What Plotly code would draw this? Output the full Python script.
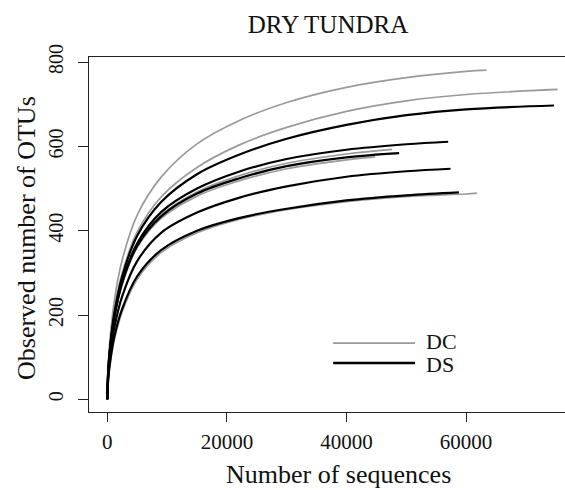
import plotly.graph_objects as go

# ---- data ----
# DC (grey) rarefaction curves
dc_x = [
    [0, 150, 500, 1200, 2500, 5000, 9000, 15000, 22000, 30000, 40000, 50000, 60000, 63400],
    [0, 150, 500, 1200, 2500, 5000, 9000, 15000, 22000, 30000, 40000, 50000, 60000, 75300],
    [0, 150, 500, 1200, 2500, 5000, 9000, 15000, 22000, 30000, 40000, 47600],
    [0, 150, 500, 1200, 2500, 5000, 9000, 15000, 22000, 30000, 40000, 44800],
    [0, 150, 500, 1200, 2500, 5000, 9000, 15000, 22000, 30000, 40000, 50000, 60000, 61800],
]
dc_y = [
    [0, 79, 150, 236, 331, 437, 527, 606, 661, 704, 740, 763, 778, 781],
    [0, 70, 134, 213, 300, 397, 480, 550, 603, 645, 683, 708, 723, 735],
    [0, 64, 123, 196, 276, 365, 437, 492, 530, 560, 582, 593],
    [0, 63, 122, 194, 273, 360, 429, 482, 518, 547, 568, 575],
    [0, 43, 86, 143, 208, 285, 348, 395, 427, 450, 469, 481, 487, 489],
]
# DS (black) rarefaction curves
ds_x = [
    [0, 150, 500, 1200, 2500, 5000, 9000, 15000, 22000, 30000, 40000, 50000, 60000, 74700],
    [0, 150, 500, 1200, 2500, 5000, 9000, 15000, 22000, 30000, 40000, 50000, 57000],
    [0, 150, 500, 1200, 2500, 5000, 9000, 15000, 22000, 30000, 40000, 48800],
    [0, 150, 500, 1200, 2500, 5000, 9000, 15000, 22000, 30000, 40000, 50000, 57400],
    [0, 150, 500, 1200, 2500, 5000, 9000, 15000, 22000, 30000, 40000, 50000, 58800],
]
ds_y = [
    [0, 68, 130, 207, 292, 388, 468, 534, 580, 618, 651, 674, 688, 697],
    [0, 65, 125, 198, 280, 370, 444, 500, 540, 570, 592, 605, 611],
    [0, 65, 125, 197, 277, 364, 434, 488, 524, 553, 574, 584],
    [0, 55, 108, 172, 245, 328, 395, 443, 478, 505, 528, 541, 547],
    [0, 47, 92, 150, 215, 292, 354, 400, 430, 452, 472, 484, 491],
]
legend_labels = ["DC", "DS"]
x_ticks = [0, 20000, 40000, 60000]
y_ticks = [0, 200, 400, 600, 800]

GRAY = "#9a9a9a"
BLACK = "#000000"
FONT = "Liberation Serif"

fig = go.Figure()
for xs, ys in zip(dc_x, dc_y):
    fig.add_trace(go.Scatter(x=xs, y=ys, mode="lines", showlegend=False,
                             line=dict(color=GRAY, width=1.7, shape="spline", smoothing=1.0)))
for xs, ys in zip(ds_x, ds_y):
    fig.add_trace(go.Scatter(x=xs, y=ys, mode="lines", showlegend=False,
                             line=dict(color=BLACK, width=2.2, shape="spline", smoothing=1.0)))

# manual legend (paper coordinates relative to plot area)
for lab, col, yy, ty, w in [(legend_labels[0], GRAY, 0.194, 0.199, 1.9),
                            (legend_labels[1], BLACK, 0.138, 0.133, 2.3)]:
    fig.add_shape(type="line", xref="paper", yref="paper", x0=0.513, x1=0.685, y0=yy, y1=yy,
                  line=dict(color=col, width=w))
    fig.add_annotation(text=lab, xref="paper", yref="paper", x=0.703, y=ty, xanchor="left",
                       yanchor="middle", showarrow=False, font=dict(family=FONT, size=22, color="#111"))

# axis titles as annotations for precise placement
fig.add_annotation(text="Number of sequences", xref="paper", yref="paper",
                   x=(338 - 89) / 476, y=-(474 - 412) / 355, xanchor="center", yanchor="middle",
                   showarrow=False, font=dict(family=FONT, size=26, color="#111"))
fig.add_annotation(text="Observed number of OTUs", xref="paper", yref="paper",
                   x=-(89 - 26) / 476, y=(412 - 238) / 355, xanchor="center", yanchor="middle",
                   textangle=-90, showarrow=False, font=dict(family=FONT, size=26, color="#111"))

fig.update_layout(
    width=565, height=490,
    margin=dict(l=89, r=0, t=57, b=78),
    paper_bgcolor="white", plot_bgcolor="white",
    title=dict(text="DRY TUNDRA", x=328 / 565, xanchor="center", y=1 - 24 / 490, yanchor="middle",
               yref="container", font=dict(family=FONT, size=25, color="#111")),
    font=dict(family=FONT, color="#111"),
)
fig.update_xaxes(range=[-3060, 76540], showgrid=False, zeroline=False,
                 showline=True, linecolor="#222", linewidth=1.3, mirror=True,
                 ticks="outside", ticklen=9, tickwidth=1.3, tickcolor="#222",
                 tickvals=x_ticks, ticktext=[str(v) for v in x_ticks],
                 tickfont=dict(family=FONT, size=21, color="#111"), ticklabelstandoff=2)
fig.update_yaxes(range=[-30, 812], showgrid=False, zeroline=False,
                 showline=True, linecolor="#222", linewidth=1.3, mirror=False,
                 ticks="outside", ticklen=10, tickwidth=1.3, tickcolor="#222",
                 tickvals=y_ticks, ticktext=[str(v) for v in y_ticks], tickangle=-90,
                 tickfont=dict(family=FONT, size=20, color="#111"), ticklabelstandoff=7)

fig.write_html("out.html")
